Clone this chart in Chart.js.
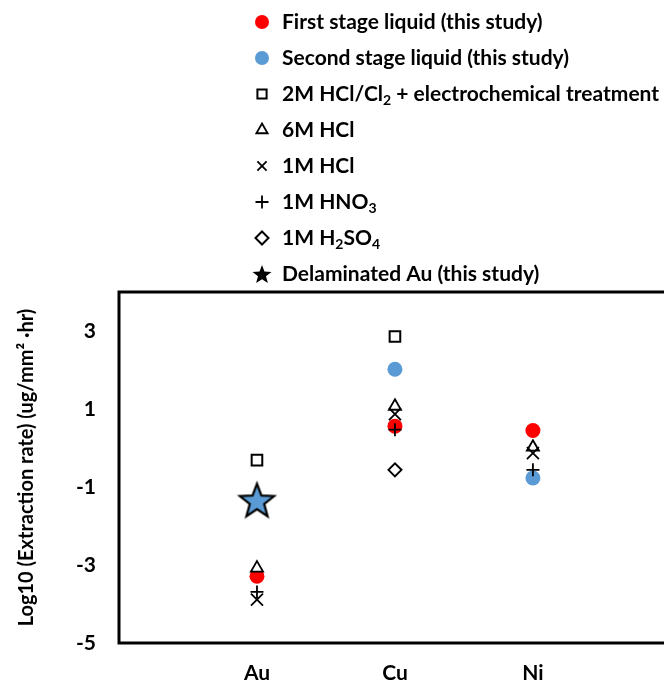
<!DOCTYPE html>
<html>
<head>
<meta charset="utf-8">
<script src="https://cdn.jsdelivr.net/npm/chart.js@4/dist/chart.umd.min.js"></script>
<style>
  html, body { margin: 0; padding: 0; background: #fff; overflow: hidden; }
  #wrap { width: 664px; height: 682px; }
</style>
</head>
<body>
<div id="wrap"><canvas id="rateChart" width="664" height="682"></canvas></div>
<script>
// metals on the x axis (placed at 1, 2, 3)
const metals = ["Au", "Cu", "Ni"];
const yTicks = [-5, -3, -1, 1, 3];

// log10 extraction rate per metal (Au, Cu, Ni), null = not reported
const firstStage = [-3.29, 0.56, 0.45];
const secondStage = [null, 2.02, -0.77];
const hclCl2 = [-0.31, 2.86, null];
const hcl6M = [-3.08, 1.07, 0.02];
const hcl1M = [-3.89, 0.87, -0.13];
const hno31M = [-3.69, 0.47, -0.56];
const h2so41M = [null, -0.56, null];
const delaminatedAu = [-1.33, null, null];

const FONT = "Lato, 'Open Sans', sans-serif";
const BLUE = "#5B9BD5";

function toPoints(values) {
  const pts = [];
  values.forEach((v, i) => {
    if (v !== null) pts.push({ x: i + 1, y: v });
  });
  return pts;
}

function makeStar(outer, fill, stroke, lw) {
  const size = Math.ceil(outer * 2 + lw * 2 + 2);
  const c = document.createElement("canvas");
  c.width = size;
  c.height = size;
  const g = c.getContext("2d");
  const cx = size / 2, cy = size / 2 + outer * 0.1;
  const inner = outer * 0.42;
  g.beginPath();
  for (let k = 0; k < 10; k++) {
    const r = k % 2 === 0 ? outer : inner;
    const a = -Math.PI / 2 + (k * Math.PI) / 5;
    const px = cx + r * Math.cos(a), py = cy + r * Math.sin(a);
    if (k === 0) g.moveTo(px, py); else g.lineTo(px, py);
  }
  g.closePath();
  g.fillStyle = fill;
  g.fill();
  if (lw > 0) {
    g.lineWidth = lw;
    g.strokeStyle = stroke;
    g.stroke();
  }
  return c;
}

const bigStar = makeStar(18, BLUE, "#000", 2.2);
const legendStar = makeStar(10, "#000", "#000", 0);

function series(label, values, style, radius, fill, border, width) {
  return {
    label: label,
    data: toPoints(values),
    pointStyle: style,
    pointRadius: radius,
    pointHoverRadius: radius,
    pointBackgroundColor: fill,
    pointBorderColor: border,
    pointBorderWidth: width,
    showLine: false,
  };
}

const datasets = [
  series("First stage liquid (this study)", firstStage, "circle", 7.5, "#FF0000", "#FF0000", 0),
  series("Second stage liquid (this study)", secondStage, "circle", 7.5, BLUE, BLUE, 0),
  series("2M HCl/Cl_2 + electrochemical treatment", hclCl2, "rect", 7.5, "#fff", "#000", 2),
  series("6M HCl", hcl6M, "triangle", 7, "#fff", "#000", 1.8),
  series("1M HCl", hcl1M, "crossRot", 8.5, "#000", "#000", 1.8),
  series("1M HNO_3", hno31M, "cross", 6.5, "#000", "#000", 1.8),
  series("1M H_2SO_4", h2so41M, "rectRot", 6.5, "#fff", "#000", 2),
  series("Delaminated Au (this study)", delaminatedAu, bigStar, 18, BLUE, "#000", 0),
];
// later series drawn on top
datasets.forEach((d, i) => { d.order = datasets.length - i; });

// draws text where "_x" means subscript x
function drawRich(ctx, text, x, y, size) {
  let cx = x;
  for (let i = 0; i < text.length; i++) {
    if (text[i] === "_" && i + 1 < text.length) {
      ctx.font = "bold " + Math.round(size * 0.65) + "px " + FONT;
      ctx.fillText(text[i + 1], cx, y + size * 0.3);
      cx += ctx.measureText(text[i + 1]).width;
      i++;
    } else {
      let j = i;
      while (j < text.length && text[j] !== "_") j++;
      const chunk = text.slice(i, j);
      ctx.font = "bold " + size + "px " + FONT;
      ctx.fillText(chunk, cx, y);
      cx += ctx.measureText(chunk).width;
      i = j - 1;
    }
  }
}

const legendPlugin = {
  id: "stackedLegend",
  afterDraw(chart) {
    const ctx = chart.ctx;
    ctx.save();
    ctx.textBaseline = "middle";
    ctx.textAlign = "left";
    chart.data.datasets.forEach((ds, i) => {
      const y = 22 + i * 36;
      const mx = 262;
      let style = ds.pointStyle;
      let radius = Math.min(ds.pointRadius, 6.5);
      if (style === bigStar) { style = legendStar; radius = 10; }
      else if (style === "circle") radius = 7;
      ctx.fillStyle = ds.pointBackgroundColor;
      ctx.strokeStyle = ds.pointBorderColor;
      ctx.lineWidth = ds.pointBorderWidth;
      Chart.helpers.drawPoint(ctx, {
        pointStyle: style,
        radius: radius,
        rotation: 0,
        borderWidth: ds.pointBorderWidth,
      }, mx, y);
      ctx.fillStyle = "#000";
      drawRich(ctx, ds.label, 282, y, 21);
    });
    ctx.restore();
  },
};

// box round the plot; right side runs past the canvas edge like the original
const framePlugin = {
  id: "frame",
  afterDatasetsDraw(chart) {
    const a = chart.chartArea;
    const ctx = chart.ctx;
    ctx.save();
    ctx.lineWidth = 3;
    ctx.strokeStyle = "#000";
    ctx.strokeRect(a.left, a.top, a.right - a.left + 40, a.bottom - a.top);
    ctx.restore();
  },
};

new Chart(document.getElementById("rateChart").getContext("2d"), {
  type: "scatter",
  data: { datasets: datasets },
  plugins: [legendPlugin, framePlugin],
  options: {
    responsive: false,
    animation: false,
    layout: { autoPadding: false, padding: { top: 292, right: 0, left: 0, bottom: 0 } },
    plugins: { legend: { display: false }, tooltip: { enabled: false } },
    scales: {
      x: {
        type: "linear",
        min: 0,
        max: 3.95,
        grid: { display: false, drawTicks: false, tickLength: 0 },
        border: { display: false },
        afterBuildTicks: (s) => { s.ticks = metals.map((m, i) => ({ value: i + 1 })); },
        afterFit: (s) => { s.height = 39; s.paddingLeft = 0; s.paddingRight = 0; },
        ticks: {
          padding: 18,
          color: "#000",
          font: { family: FONT, size: 21, weight: "bold" },
          callback: (v) => metals[v - 1] || "",
        },
      },
      y: {
        min: -5,
        max: 4,
        grid: { display: false, drawTicks: false, tickLength: 0 },
        border: { display: false },
        afterBuildTicks: (s) => { s.ticks = yTicks.map((v) => ({ value: v })); },
        afterFit: (s) => { s.width = 119; s.paddingTop = 0; s.paddingBottom = 0; },
        ticks: {
          padding: 23,
          color: "#000",
          font: { family: FONT, size: 21, weight: "bold" },
        },
        title: {
          display: true,
          text: "Log10 (Extraction rate) (ug/mm² ·hr)",
          color: "#000",
          font: { family: FONT, size: 20, weight: "bold" },
          padding: { top: 15, bottom: 0 },
        },
      },
    },
  },
});
</script>
</body>
</html>
